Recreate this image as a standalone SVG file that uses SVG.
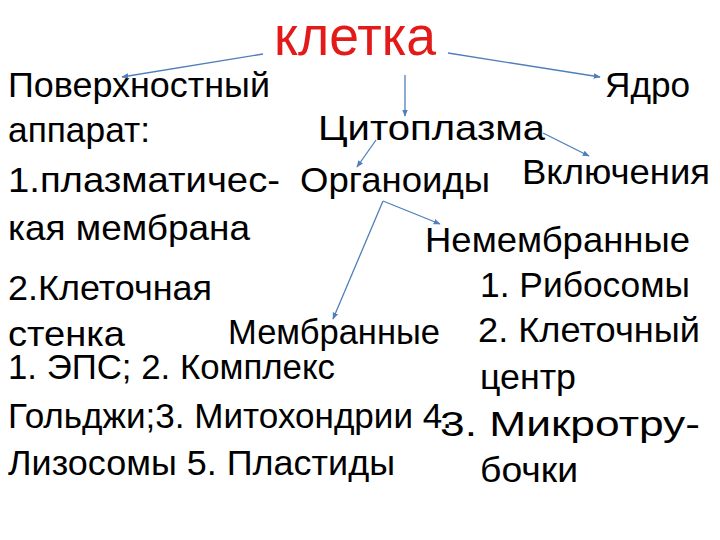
<svg xmlns="http://www.w3.org/2000/svg" width="720" height="540" viewBox="0 0 720 540">
<defs>
<style>
text{font-family:"Liberation Sans",Arial,sans-serif;font-size:35px;fill:#000}
.title{font-size:56px;fill:#e31a1a}
.c line{stroke:#4f7fba;stroke-width:1.3;marker-end:url(#ah)}
</style>
<marker id="ah" viewBox="0 0 10 10" refX="9" refY="5" markerWidth="7" markerHeight="7" markerUnits="userSpaceOnUse" orient="auto">
<path d="M0,1 L10,5 L0,9 Z" fill="#4f7fba"/>
</marker>
</defs>
<rect width="720" height="540" fill="#fff"/>
<g id="kletka"><text class="title" x="274" y="55" textLength="162" lengthAdjust="spacingAndGlyphs">клетка</text></g>
<g id="surface">
<text x="8" y="97" textLength="262" lengthAdjust="spacingAndGlyphs">Поверхностный</text>
<text x="8" y="142" textLength="142" lengthAdjust="spacingAndGlyphs">аппарат:</text>
<text x="8" y="192" textLength="272" lengthAdjust="spacingAndGlyphs">1.плазматичес-</text>
<text x="8" y="240" textLength="242" lengthAdjust="spacingAndGlyphs">кая мембрана</text>
<text x="8" y="300" textLength="204" lengthAdjust="spacingAndGlyphs">2.Клеточная</text>
<text x="8" y="346" textLength="117" lengthAdjust="spacingAndGlyphs">стенка</text>
</g>
<g id="nucleus"><text x="605" y="97" textLength="85" lengthAdjust="spacingAndGlyphs">Ядро</text></g>
<g id="cytoplasm"><text x="318" y="140" textLength="227" lengthAdjust="spacingAndGlyphs">Цитоплазма</text></g>
<g id="organoids"><text x="300" y="192" textLength="190" lengthAdjust="spacingAndGlyphs">Органоиды</text></g>
<g id="inclusions"><text x="522" y="184" textLength="188" lengthAdjust="spacingAndGlyphs">Включения</text></g>
<g id="nonmembrane">
<text x="425" y="252" textLength="265" lengthAdjust="spacingAndGlyphs">Немембранные</text>
<text x="480" y="297" textLength="210" lengthAdjust="spacingAndGlyphs">1. Рибосомы</text>
<text x="478" y="342" textLength="222" lengthAdjust="spacingAndGlyphs">2. Клеточный</text>
<text x="480" y="389" textLength="96" lengthAdjust="spacingAndGlyphs">центр</text>
<text x="440" y="436" textLength="260" lengthAdjust="spacingAndGlyphs">3. Микротру-</text>
<text x="480" y="482" textLength="98" lengthAdjust="spacingAndGlyphs">бочки</text>
</g>
<g id="membrane">
<text x="228" y="344" textLength="212" lengthAdjust="spacingAndGlyphs">Мембранные</text>
<text x="8" y="379" textLength="327" lengthAdjust="spacingAndGlyphs">1. ЭПС; 2. Комплекс</text>
<text x="8" y="428" textLength="444" lengthAdjust="spacingAndGlyphs">Гольджи;3. Митохондрии 4.</text>
<text x="8" y="475" textLength="387" lengthAdjust="spacingAndGlyphs">Лизосомы 5. Пластиды</text>
</g>
<g id="connectors" class="c">
<line x1="263" y1="54" x2="122" y2="77"/>
<line x1="448" y1="53" x2="600" y2="77"/>
<line x1="405" y1="75" x2="405" y2="116"/>
<line x1="376" y1="140" x2="357" y2="167"/>
<line x1="543" y1="133" x2="589" y2="156"/>
<line x1="383" y1="201" x2="440" y2="224"/>
<line x1="383" y1="201" x2="333" y2="319"/>
</g>
</svg>
